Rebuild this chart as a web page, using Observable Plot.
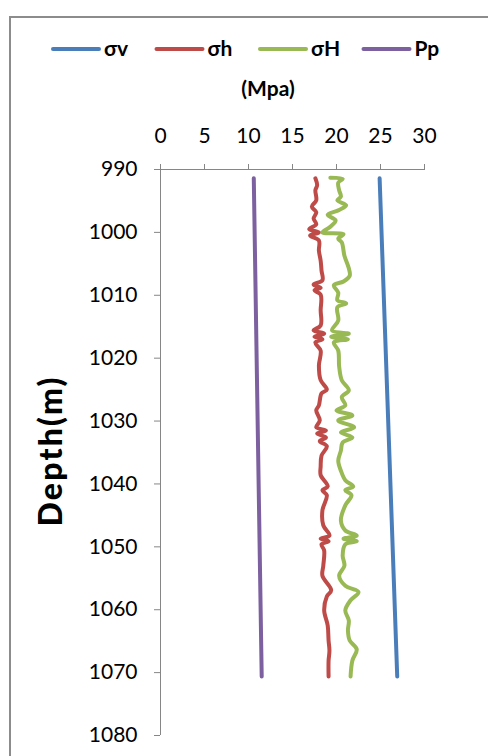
<!DOCTYPE html>
<html><head><meta charset="utf-8">
<script src="https://cdn.jsdelivr.net/npm/d3@7"></script>
<script src="https://cdn.jsdelivr.net/npm/@observablehq/plot@0.6"></script>
<style>body{margin:0;background:#fff}#chart svg{display:block}</style>
</head><body><div id="chart"></div>
<script>
const seriesNames = ["σv", "σh", "σH", "Pp"];
const seriesColors = ["#4a7ebb", "#be4b48", "#98b954", "#7d60a0"];
const xTicks = [0, 5, 10, 15, 20, 25, 30];
const yTicks = [990, 1000, 1010, 1020, 1030, 1040, 1050, 1060, 1070, 1080];
const xTitle = "(Mpa)";
const yTitle = "Depth(m)";

const svDepth = [991.4, 1070.6];
const svValue = [24.9, 26.9];
const ppDepth = [991.4, 1070.6];
const ppValue = [10.6, 11.5];

const shDepth = [991.4,992.5,993.3,994.9,995.9,996.8,997.8,998.7,999.5,1000.0,1000.5,1001.3,1002.9,1004.5,1006.1,1007.6,1008.3,1008.8,1009.2,1009.9,1012.4,1014.8,1015.6,1016.1,1016.6,1017.0,1017.5,1018.8,1021.2,1023.5,1025.0,1025.6,1027.5,1028.3,1029.9,1031.0,1031.5,1032.0,1032.6,1033.2,1034.0,1035.5,1037.2,1038.6,1040.4,1041.0,1041.8,1044.2,1046.6,1048.2,1048.7,1049.1,1049.6,1050.6,1053.0,1054.6,1056.9,1057.9,1060.1,1062.5,1064.9,1066.5,1068.1,1070.6];
const shValue = [17.6,17.8,17.6,17.7,17.2,17.7,17.4,17.7,16.9,18.0,17.0,18.0,18.0,18.2,18.3,18.4,17.4,18.2,17.5,18.2,18.2,18.2,17.4,18.6,17.5,18.4,17.6,18.2,18.0,18.2,18.9,18.3,18.0,17.7,18.1,17.7,18.8,17.8,18.8,18.1,18.9,18.3,18.2,18.2,19.0,18.4,18.9,18.4,18.5,19.2,18.2,19.1,18.3,18.6,18.5,18.4,19.4,18.9,18.6,19.0,19.1,19.2,19.1,19.1];

const sHDepth = [991.3,991.5,992.1,993.3,994.3,994.9,995.7,996.5,997.2,998.1,999.1,1000.0,1000.3,1001.0,1001.6,1003.7,1005.7,1006.9,1007.8,1008.4,1009.6,1010.8,1011.3,1011.9,1014.0,1015.6,1016.1,1016.6,1017.0,1017.5,1018.8,1021.3,1023.5,1025.1,1026.2,1027.5,1028.3,1029.1,1029.9,1031.0,1031.8,1032.6,1033.4,1034.7,1036.3,1037.9,1039.4,1040.4,1041.0,1041.8,1043.4,1045.8,1047.4,1048.2,1048.7,1049.1,1049.6,1051.4,1053.0,1054.6,1056.2,1057.2,1058.5,1060.1,1061.7,1063.3,1064.9,1066.3,1068.1,1070.6];
const sHValue = [19.3,20.7,20.2,20.3,20.5,20.1,21.1,20.2,19.0,19.9,19.3,18.4,20.8,20.2,20.6,20.9,21.4,21.5,20.8,19.7,20.2,20.1,21.1,20.1,20.2,19.5,21.4,19.4,21.3,19.7,20.2,20.3,20.6,21.4,20.6,21.0,20.0,21.8,20.2,22.0,20.5,21.8,20.7,20.5,20.2,20.5,21.0,21.9,21.0,21.7,21.0,20.5,21.0,22.3,20.8,22.3,21.0,20.7,20.9,20.3,21.0,22.5,21.6,21.0,21.4,21.3,21.5,22.3,21.8,21.6];

const seriesData = [[svDepth, svValue], [shDepth, shValue], [sHDepth, sHValue], [ppDepth, ppValue]];
const rows = [];
seriesData.forEach(([ds, vs], k) => ds.forEach((d, i) => rows.push({series: seriesNames[k], depth: d, value: vs[i]})));

const W = 488, H = 756;
const FONT = "Lato, 'Open Sans', sans-serif";
const axisGray = "#868686";

const chart = Plot.plot({
  width: W, height: H,
  marginLeft: 160, marginRight: 64, marginTop: 169, marginBottom: 21,
  style: {fontFamily: FONT, fontSize: "21px", color: "#000", background: "#fff"},
  x: {domain: [0, 30], ticks: xTicks},
  y: {domain: [990, 1080], reverse: true, ticks: yTicks},
  color: {domain: seriesNames, range: seriesColors},
  marks: [
    Plot.ruleY([990], {stroke: axisGray, strokeWidth: 1}),
    Plot.ruleX([0], {stroke: axisGray, strokeWidth: 1}),
    Plot.axisX({anchor: "top", ticks: xTicks, tickSize: 6, tickPadding: 21, stroke: axisGray, fill: "#000", fontSize: 21, label: null}),
    Plot.axisY({anchor: "left", ticks: yTicks, tickSize: 6, tickPadding: 17, stroke: axisGray, fill: "#000", fontSize: 21, label: null, tickFormat: d => String(d)}),
    Plot.line(rows, {x: "value", y: "depth", z: "series", stroke: "series", strokeWidth: 4, strokeLinecap: "round", strokeLinejoin: "round", curve: "catmull-rom"})
  ]
});

const svg = d3.select(chart);
// outer chart-area border (extends past the right/bottom edges as in the reference)
svg.insert("rect", ":first-child").attr("x", 10).attr("y", 17).attr("width", 600).attr("height", 900)
  .attr("fill", "#fff").attr("stroke", "#8c8c8c").attr("stroke-width", 2);

// legend
const lg = svg.append("g").attr("font-family", FONT).attr("font-weight", "bold").attr("font-size", 21).attr("text-anchor", "start");
seriesNames.forEach((name, i) => {
  const x0 = 53 + i * 103.5;
  lg.append("line").attr("x1", x0).attr("x2", x0 + 46).attr("y1", 49).attr("y2", 49)
    .attr("stroke", seriesColors[i]).attr("stroke-width", 4).attr("stroke-linecap", "round");
  lg.append("text").attr("x", x0 + 51).attr("y", 49).attr("dy", "0.35em").text(name);
});
// x title
svg.append("text").attr("x", 268).attr("y", 89).attr("dy", "0.35em").attr("text-anchor", "middle")
  .attr("font-family", FONT).attr("font-weight", "bold").attr("font-size", 21).text(xTitle);
// y title
svg.append("text").attr("transform", "translate(51,452) rotate(-90)").attr("dy", "0.35em").attr("text-anchor", "middle")
  .attr("font-family", FONT).attr("font-weight", "900").attr("font-size", 32)
  .attr("textLength", 149).attr("lengthAdjust", "spacing").text(yTitle);

document.getElementById("chart").appendChild(chart);
</script></body></html>
